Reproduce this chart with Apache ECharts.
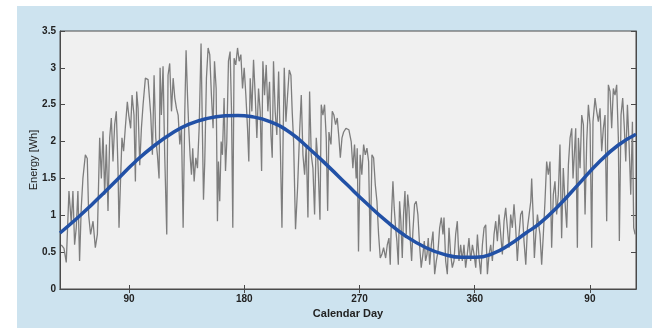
<!DOCTYPE html>
<html>
<head>
<meta charset="utf-8">
<script src="https://cdn.jsdelivr.net/npm/echarts@6/dist/echarts.min.js"></script>
<style>
  html, body { margin: 0; padding: 0; background: #ffffff; }
  #panel { position: absolute; left: 17px; top: 6px; width: 635px; height: 322px; background: #cde3ef; }
  #chart { position: absolute; left: 0; top: 0; width: 652px; height: 328px; }
</style>
</head>
<body>
<div id="panel"></div>
<div id="chart"></div>
<script>
// daily energy (gray, noisy)
const dayAxis = [37.0, 39.1, 40.9, 43.0, 44.8, 46.1, 47.4, 48.7, 50.0, 51.3, 52.6, 53.9, 55.8, 57.3, 58.4, 59.9, 61.8, 63.6, 65.2, 67.0,
  68.3, 69.6, 70.9, 72.2, 73.5, 74.8, 76.1, 77.4, 78.7, 80.0, 81.3, 82.1, 83.1, 84.4, 85.7, 87.0, 88.6, 89.7, 91.2, 92.3,
  93.8, 94.9, 95.9, 97.0, 98.3, 99.6, 100.9, 102.7, 104.8, 106.1, 106.9, 108.2, 109.5, 110.8,
  112.1, 113.4, 114.2, 115.2, 116.5, 117.8, 119.4, 120.4, 121.7, 123.1, 124.4, 125.7, 127.0, 128.3, 129.6, 130.9, 132.2, 133.5,
  134.5, 135.6, 136.6, 137.6, 138.7, 139.7, 140.8, 142.1, 143.4, 144.7, 146.2, 147.3, 148.1, 149.1, 150.4, 151.7, 153.0, 154.3,
  155.6, 156.7, 158.0, 159.0, 159.8, 160.8, 161.9, 162.9, 164.2, 165.3, 166.3, 167.6, 168.9, 170.0, 171.0, 172.0, 173.3, 174.7,
  176.0, 177.3, 178.6, 179.9, 181.2, 182.5, 183.5, 184.6, 185.9,
  187.2, 188.5, 189.8, 191.1, 192.4, 193.5, 194.5, 195.8, 197.1, 198.4, 199.7, 200.8, 201.8, 202.8, 204.1, 205.4, 206.8, 208.1,
  209.4, 210.4, 211.2, 212.5, 213.8, 215.1, 216.4, 217.4, 218.5, 220.0, 221.6, 223.2, 224.5, 225.8, 227.1, 228.4, 229.7, 231.0,
  232.3, 233.6, 234.9, 236.2, 237.5, 239.1, 240.1, 241.4, 242.7, 244.0, 245.1, 246.1, 247.7, 248.7, 250.0, 251.3, 252.6, 253.9,
  255.0, 256.3, 257.6, 259.4,
  261.7, 263.5, 264.8, 266.1, 267.4, 268.2, 269.2, 270.5, 271.8, 273.2, 274.5, 275.8, 277.1, 278.4, 279.7, 281.0, 282.3, 283.6,
  284.9, 286.2, 287.5, 288.8, 290.4, 291.7, 293.0, 294.0, 295.0, 296.1, 297.1, 298.2, 299.2, 300.3, 301.3, 302.3, 303.4, 304.4,
  305.5, 306.5, 307.6, 308.6, 309.6, 310.7, 311.7, 313.0, 314.3, 315.6, 316.9, 318.2, 319.5, 320.6, 321.6, 322.7, 323.7, 324.8,
  326.1, 327.4, 328.7, 330.0, 331.3, 332.6, 333.9, 335.2,
  336.0, 337.3, 338.6, 339.9, 341.2, 342.5, 343.8, 345.1, 346.4, 347.7, 349.0, 350.3, 351.6, 352.9, 354.2, 355.5, 356.8, 358.2,
  359.5, 360.8, 362.1, 363.4, 364.7, 366.0, 367.3, 368.6, 369.9, 371.2, 372.5, 373.8, 375.1, 376.4, 377.7, 379.0, 380.3, 381.6,
  382.9, 384.2, 385.5, 386.8, 388.1, 389.4, 390.7, 392.0, 393.3, 394.6, 395.9, 397.2, 398.5, 399.9, 401.2, 402.5, 403.8, 404.5,
  405.6, 406.6, 407.7, 409.0, 410.3,
  411.0, 412.3, 413.6, 414.9, 416.2, 417.5, 418.8, 420.1, 421.4, 422.7, 424.0, 425.3, 426.6, 427.9, 429.2, 430.5, 431.9, 433.2,
  434.5, 435.8, 436.8, 437.8, 438.9, 440.2, 441.0, 442.3, 443.6, 444.9, 446.2, 447.5, 448.8, 450.1, 451.4, 452.4, 454.0, 455.3,
  456.6, 457.9, 459.2, 460.5, 461.8, 463.1, 464.4, 465.7, 467.0, 468.3, 469.6, 470.9, 472.2, 473.0, 474.3, 475.6, 476.9, 478.0,
  479.3, 480.6, 481.9, 483.2, 484.2, 485.3];
const dailyEnergy = [0.6, 0.55, 0.36, 1.33, 0.9, 1.33, 0.6, 0.83, 1.33, 0.38, 1.1, 1.5, 1.82, 1.77, 1.0, 0.74, 0.92, 0.56, 0.74, 2.05,
  1.5, 2.14, 1.28, 1.96, 1.06, 2.05, 2.32, 1.73, 2.23, 2.41, 1.64, 0.83, 1.37, 2.05, 1.87, 2.18, 2.54, 2.36, 2.18, 2.63,
  2.36, 1.46, 2.68, 2.45, 1.68, 2.18, 2.5, 2.86, 2.84, 2.86, 2.36, 1.82, 2.9, 2.05,
  1.82, 1.5, 3.0, 2.36, 3.02, 1.82, 0.74, 2.9, 3.06, 2.41, 2.86, 2.59, 2.45, 2.36, 1.96, 2.18, 0.83, 2.41,
  3.24, 2.63, 2.18, 1.82, 1.55, 1.91, 1.46, 1.78, 1.64, 2.18, 3.33, 2.09, 1.21, 1.73, 2.86, 3.27, 3.18, 2.63,
  2.18, 3.09, 2.72, 0.92, 1.73, 1.19, 2.0, 1.82, 2.59, 1.6, 2.0, 3.09, 3.22, 2.41, 0.83, 3.13, 3.04, 3.27,
  3.09, 3.18, 2.72, 3.0, 2.63, 2.18, 1.73, 2.86, 2.41,
  3.11, 2.63, 2.05, 2.72, 2.41, 1.6, 3.09, 2.63, 3.04, 2.41, 2.81, 2.09, 1.78, 3.09, 2.41, 2.09, 2.95, 1.96,
  0.83, 2.18, 3.0, 2.27, 2.63, 2.97, 2.9, 2.41, 2.0, 0.81, 1.37, 2.13, 2.63, 1.82, 1.55, 1.96, 0.97, 2.68,
  1.82, 1.64, 1.01, 2.05, 1.73, 0.94, 2.5, 2.36, 2.5, 2.05, 1.06, 2.13, 1.96, 2.41, 2.36, 2.23, 2.32, 2.05,
  1.78, 2.05, 2.13, 2.18,
  2.16, 2.0, 1.64, 1.96, 1.5, 1.91, 0.51, 1.82, 1.55, 1.96, 1.82, 1.91, 1.73, 0.51, 1.82, 1.78, 1.42, 1.19,
  0.74, 0.42, 0.47, 0.56, 0.42, 0.6, 0.69, 0.33, 1.01, 1.46, 1.1, 0.83, 0.65, 0.33, 1.19, 0.92, 0.42, 1.01,
  1.33, 0.74, 1.28, 1.1, 0.69, 0.38, 0.78, 1.15, 1.19, 1.01, 0.6, 0.29, 0.47, 0.65, 0.38, 0.47, 0.69, 0.33,
  0.6, 0.78, 0.2, 0.38, 0.51, 0.83, 0.97, 0.74,
  0.97, 0.38, 0.2, 0.83, 0.47, 0.29, 0.38, 0.74, 0.92, 0.38, 0.6, 0.38, 0.6, 0.29, 0.47, 0.69, 0.38, 0.6,
  0.47, 0.29, 0.74, 0.42, 0.2, 0.6, 0.83, 0.87, 0.2, 0.47, 0.6, 0.38, 0.74, 0.92, 0.65, 1.01, 0.74, 0.47,
  0.92, 1.1, 0.83, 0.56, 1.01, 0.83, 1.15, 0.83, 0.38, 0.74, 1.01, 1.06, 0.65, 0.33, 0.83, 1.01, 1.19, 1.5,
  1.01, 0.42, 0.74, 1.01, 0.83,
  0.74, 0.33, 0.74, 1.19, 1.73, 1.55, 1.73, 0.56, 1.28, 1.46, 1.01, 1.28, 1.96, 0.69, 1.64, 1.19, 0.83, 1.69,
  2.05, 2.18, 1.5, 1.82, 2.18, 0.56, 2.05, 1.64, 2.36, 2.23, 1.01, 2.0, 2.5, 2.23, 0.56, 2.27, 2.59, 2.41,
  2.27, 2.45, 1.87, 2.18, 2.36, 0.92, 2.77, 2.68, 2.18, 2.72, 2.63, 2.77, 2.05, 0.65, 2.36, 2.59, 2.18, 1.73,
  2.5, 1.96, 1.28, 2.27, 0.83, 0.74];

// seasonal fit (blue)
const fitDays = [36, 50, 60, 70, 81, 95, 110, 125, 136, 150, 165, 175, 185, 200, 216, 231, 247, 260, 275, 291, 306, 322, 336, 350, 361, 374, 387, 400, 410, 425, 441, 457, 472, 486];
const fitEnergy = [0.76, 0.97, 1.13, 1.3, 1.49, 1.73, 1.95, 2.13, 2.23, 2.31, 2.35, 2.355, 2.34, 2.27, 2.12, 1.9, 1.64, 1.42, 1.17, 0.92, 0.72, 0.56, 0.47, 0.43, 0.43, 0.48, 0.6, 0.76, 0.88, 1.12, 1.42, 1.72, 1.95, 2.1];

const dayTicks = [90, 180, 270, 360, 450];
const energyTicks = [0, 0.5, 1, 1.5, 2, 2.5, 3, 3.5];

const chart = echarts.init(document.getElementById('chart'));
const frame = '#4a4a4a';
const fontFamily = 'Liberation Sans, Arial, sans-serif';
const labelFont = { color: '#222', fontSize: 10, fontWeight: 'bold', fontFamily };

chart.setOption({
  backgroundColor: 'transparent',
  animation: false,
  grid: { left: 60, top: 31, right: 16, bottom: 39, show: true, backgroundColor: '#f0f0f0', borderColor: frame, borderWidth: 1 },
  xAxis: [{
    type: 'value', min: 36, max: 486,
    name: 'Calendar Day', nameLocation: 'middle', nameGap: 19,
    nameTextStyle: { color: '#222', fontSize: 11, fontWeight: 'bold', fontFamily },
    axisLine: { show: true, lineStyle: { color: frame, width: 1 } },
    axisTick: { show: true, inside: true, length: 4, customValues: dayTicks, lineStyle: { color: frame } },
    axisLabel: { customValues: dayTicks, margin: 5, ...labelFont, formatter: v => String(v > 360 ? v - 360 : v) },
    splitLine: { show: false }
  }, {
    type: 'value', min: 36, max: 486, position: 'top',
    axisLine: { show: true, lineStyle: { color: frame, width: 1 } },
    axisTick: { show: true, inside: true, length: 4, customValues: dayTicks, lineStyle: { color: frame } },
    axisLabel: { show: false },
    splitLine: { show: false }
  }],
  yAxis: [{
    type: 'value', min: 0, max: 3.5, interval: 0.5,
    name: 'Energy [Wh]', nameLocation: 'middle', nameGap: 21, nameMoveOverlap: false,
    nameTextStyle: { color: '#222', fontSize: 11, fontFamily },
    axisLine: { show: true, lineStyle: { color: frame, width: 1 } },
    axisTick: { show: true, inside: true, length: 5, lineStyle: { color: frame } },
    axisLabel: { margin: 4, ...labelFont, customValues: energyTicks },
    splitLine: { show: false }
  }, {
    type: 'value', min: 0, max: 3.5, interval: 0.5, position: 'right',
    axisLine: { show: true, lineStyle: { color: frame, width: 1 } },
    axisTick: { show: true, inside: true, length: 5, lineStyle: { color: frame } },
    axisLabel: { show: false },
    splitLine: { show: false }
  }],
  series: [{
    type: 'line',
    data: dayAxis.map((d, i) => [d, dailyEnergy[i]]),
    symbol: 'none',
    lineStyle: { color: '#7d7d7d', width: 1.3 },
    z: 2
  }, {
    type: 'line',
    data: fitDays.map((d, i) => [d, fitEnergy[i]]),
    smooth: true,
    symbol: 'none',
    lineStyle: { color: '#2251a6', width: 3.5 },
    z: 3
  }]
});
</script>
</body>
</html>
